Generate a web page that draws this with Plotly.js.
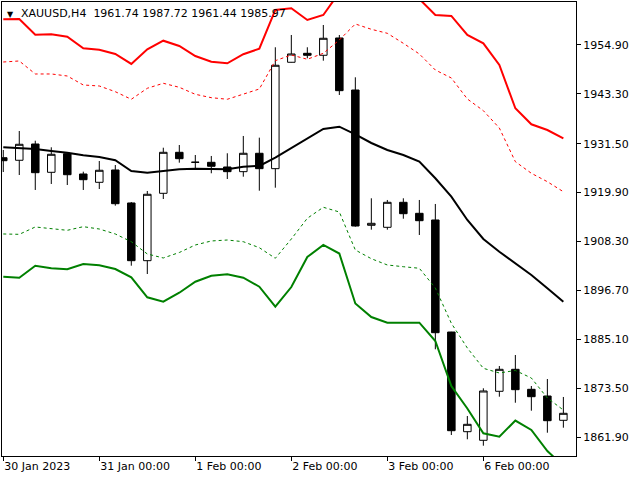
<!DOCTYPE html>
<html>
<head>
<meta charset="utf-8">
<script src="https://cdn.plot.ly/plotly-3.0.1.min.js"></script>
<style>
  html, body { margin: 0; padding: 0; background: #fff; }
  #chart { width: 640px; height: 480px; }
</style>
</head>
<body>
<div id="chart"></div>
<script>
// H4 bars, 30 Jan 2023 .. 6 Feb 2023
var bars = [
  '30.01 00:00', '30.01 04:00', '30.01 08:00', '30.01 12:00', '30.01 16:00', '30.01 20:00',
  '31.01 00:00', '31.01 04:00', '31.01 08:00', '31.01 12:00', '31.01 16:00', '31.01 20:00',
  '01.02 00:00', '01.02 04:00', '01.02 08:00', '01.02 12:00', '01.02 16:00', '01.02 20:00',
  '02.02 00:00', '02.02 04:00', '02.02 08:00', '02.02 12:00', '02.02 16:00', '02.02 20:00',
  '03.02 00:00', '03.02 04:00', '03.02 08:00', '03.02 12:00', '03.02 16:00', '03.02 20:00',
  '06.02 00:00', '06.02 04:00', '06.02 08:00', '06.02 12:00', '06.02 16:00', '06.02 20:00'
];

var open = [1928.18, 1927.57, 1931.43, 1924.72, 1929.13, 1924.32,
            1922.35, 1925.27, 1917.45, 1903.77, 1919.74, 1929.46,
            1927.09, 1927.09, 1925.98, 1924.87, 1929.23, 1925.58,
            1950.80, 1952.93, 1952.46, 1956.56, 1944.23, 1912.16,
            1911.68, 1917.61, 1915.00, 1913.42, 1886.86, 1863.23,
            1861.19, 1872.81, 1878.02, 1873.28, 1871.69, 1865.93];
var high = [1930.01, 1934.51, 1932.21, 1930.65, 1929.46, 1924.87,
            1927.40, 1926.45, 1917.68, 1920.29, 1930.55, 1931.19,
            1928.82, 1928.59, 1929.23, 1933.33, 1932.93, 1954.36,
            1957.27, 1954.36, 1959.64, 1957.27, 1947.24, 1918.56,
            1918.16, 1918.56, 1918.16, 1917.21, 1886.90, 1866.95,
            1873.52, 1878.80, 1881.41, 1874.06, 1875.72, 1871.46];
var low = [1924.79, 1924.08, 1920.53, 1921.95, 1921.71, 1920.53,
           1920.76, 1916.81, 1902.58, 1900.61, 1918.39, 1927.00,
           1925.39, 1924.49, 1923.13, 1923.68, 1920.36, 1921.07,
           1950.75, 1951.75, 1951.18, 1943.05, 1911.83, 1911.12,
           1911.12, 1913.72, 1909.86, 1882.76, 1862.45, 1861.43,
           1859.91, 1871.53, 1870.10, 1868.21, 1862.99, 1864.18];
var close = [1927.47, 1931.36, 1924.63, 1928.99, 1924.15, 1922.97,
             1925.20, 1917.28, 1903.77, 1919.51, 1929.46, 1927.95,
             1927.10, 1926.15, 1924.87, 1929.23, 1925.58, 1950.09,
             1952.77, 1952.46, 1956.49, 1944.07, 1911.99, 1912.63,
             1917.61, 1914.91, 1913.25, 1886.70, 1863.47, 1864.98,
             1872.88, 1878.02, 1873.19, 1871.53, 1865.84, 1867.59];

// envelope / band lines
var middle = [1930.65, 1930.41, 1930.25, 1929.77, 1929.37, 1928.75,
              1928.35, 1927.57, 1925.03, 1924.63, 1925.10, 1925.43,
              1925.55, 1925.51, 1925.43, 1926.05, 1926.22, 1928.18,
              1930.41, 1932.62, 1934.99, 1935.53, 1933.73, 1931.67,
              1930.01, 1928.82, 1927.24, 1923.30, 1918.94, 1913.42,
              1908.91, 1905.90, 1903.15, 1900.38, 1897.22, 1894.05];
var upperOuter = [1960.99, 1961.06, 1957.34, 1957.44, 1956.87, 1954.12,
                  1953.79, 1952.77, 1950.40, 1953.88, 1955.92, 1954.66,
                  1952.29, 1950.94, 1950.56, 1952.72, 1954.02, 1963.20,
                  1963.60, 1960.83, 1962.01, 1967.46, 1972.68, 1971.97,
                  1971.50, 1968.65, 1965.81, 1962.01, 1961.78, 1957.27,
                  1955.30, 1950.16, 1939.89, 1936.10, 1934.75, 1932.78];
var upperInner = [1950.87, 1951.11, 1948.03, 1948.03, 1947.55, 1945.42,
                  1945.18, 1943.83, 1942.03, 1944.64, 1945.82, 1944.87,
                  1943.21, 1942.41, 1942.03, 1943.21, 1944.47, 1951.18,
                  1952.53, 1951.51, 1952.93, 1956.09, 1959.88, 1958.62,
                  1957.67, 1955.30, 1952.77, 1948.97, 1947.08, 1942.10,
                  1939.33, 1935.22, 1927.24, 1924.49, 1922.49, 1920.12];
var lowerInner = [1910.10, 1910.02, 1911.76, 1911.35, 1910.97, 1911.83,
                  1911.28, 1910.10, 1908.27, 1905.36, 1904.41, 1905.71,
                  1907.49, 1908.44, 1908.67, 1908.27, 1906.85, 1904.34,
                  1908.91, 1913.82, 1916.43, 1915.31, 1906.30, 1904.24,
                  1902.75, 1902.34, 1901.97, 1897.30, 1888.93, 1883.07,
                  1878.26, 1877.15, 1877.74, 1875.96, 1871.22, 1868.37];
var lowerOuter = [1899.97, 1899.74, 1902.58, 1901.97, 1901.73, 1902.98,
                  1902.68, 1901.80, 1899.83, 1895.09, 1894.05, 1896.18,
                  1898.79, 1900.21, 1900.54, 1899.74, 1897.60, 1892.86,
                  1897.53, 1904.64, 1907.49, 1905.47, 1893.62, 1890.42,
                  1889.07, 1889.07, 1889.07, 1884.73, 1874.06, 1868.73,
                  1862.85, 1862.04, 1865.88, 1863.63, 1858.65, 1855.10];

var priceTicks = [1861.90, 1873.50, 1885.10, 1896.70, 1908.30, 1919.90, 1931.50, 1943.30, 1954.90];
var timeTicks = ['30.01 00:00', '31.01 00:00', '01.02 00:00', '02.02 00:00', '03.02 00:00', '06.02 00:00'];
var timeLabels = ['30 Jan 2023', '31 Jan 00:00', '1 Feb 00:00', '2 Feb 00:00', '3 Feb 00:00', '6 Feb 00:00'];

var header = 'XAUUSD,H4&nbsp;&nbsp;1961.74 1987.72 1961.44 1985.97';

var candles = {
  type: 'candlestick',
  x: bars,
  open: open, high: high, low: low, close: close,
  increasing: { line: { color: '#000000', width: 1 }, fillcolor: '#ffffff' },
  decreasing: { line: { color: '#000000', width: 1 }, fillcolor: '#000000' },
  whiskerwidth: 0,
  hoverinfo: 'skip'
};

function band(y, color, width, dash) {
  return {
    type: 'scatter', mode: 'lines', x: bars, y: y,
    line: { color: color, width: width, dash: dash },
    hoverinfo: 'skip'
  };
}

var data = [
  candles,
  band(upperOuter, '#ff0000', 2, 'solid'),
  band(upperInner, '#ff0000', 1, '3px,3px'),
  band(middle, '#000000', 2, 'solid'),
  band(lowerInner, '#008000', 1, '3px,3px'),
  band(lowerOuter, '#008000', 2, 'solid')
];

var axisFont = { family: 'DejaVu Sans, Verdana, sans-serif', size: 11, color: '#000000' };

var layout = {
  width: 640, height: 480,
  margin: { l: 2, r: 64, t: 2, b: 24 },
  paper_bgcolor: '#ffffff',
  plot_bgcolor: '#ffffff',
  showlegend: false,
  boxgap: 0.33,
  font: axisFont,
  xaxis: {
    type: 'category',
    range: [-0.08, 35.79],
    rangeslider: { visible: false },
    showgrid: false, zeroline: false,
    showline: true, linecolor: '#000000', linewidth: 1, mirror: true,
    ticks: 'outside', ticklen: 4, tickcolor: '#000000',
    tickvals: timeTicks, ticktext: timeLabels,
    ticklabelposition: 'outside right',
    tickfont: axisFont
  },
  yaxis: {
    side: 'right',
    range: [1857.47, 1965.09],
    showgrid: false, zeroline: false,
    showline: true, linecolor: '#000000', linewidth: 1, mirror: true,
    ticks: 'outside', ticklen: 4, tickcolor: '#000000',
    tickvals: priceTicks,
    ticktext: priceTicks.map(function (v) { return v.toFixed(2); }),
    tickfont: axisFont
  },
  annotations: [
    {
      xref: 'paper', yref: 'paper', x: 0, y: 1, xanchor: 'left', yanchor: 'top',
      xshift: 3, yshift: -6, showarrow: false,
      text: '\u25BC', font: { family: 'DejaVu Sans', size: 8, color: '#000000' }
    },
    {
      xref: 'paper', yref: 'paper', x: 0, y: 1, xanchor: 'left', yanchor: 'top',
      xshift: 17, yshift: -3, showarrow: false,
      text: header, font: axisFont
    }
  ]
};

Plotly.newPlot('chart', data, layout, { displayModeBar: false, staticPlot: true });
</script>
</body>
</html>
